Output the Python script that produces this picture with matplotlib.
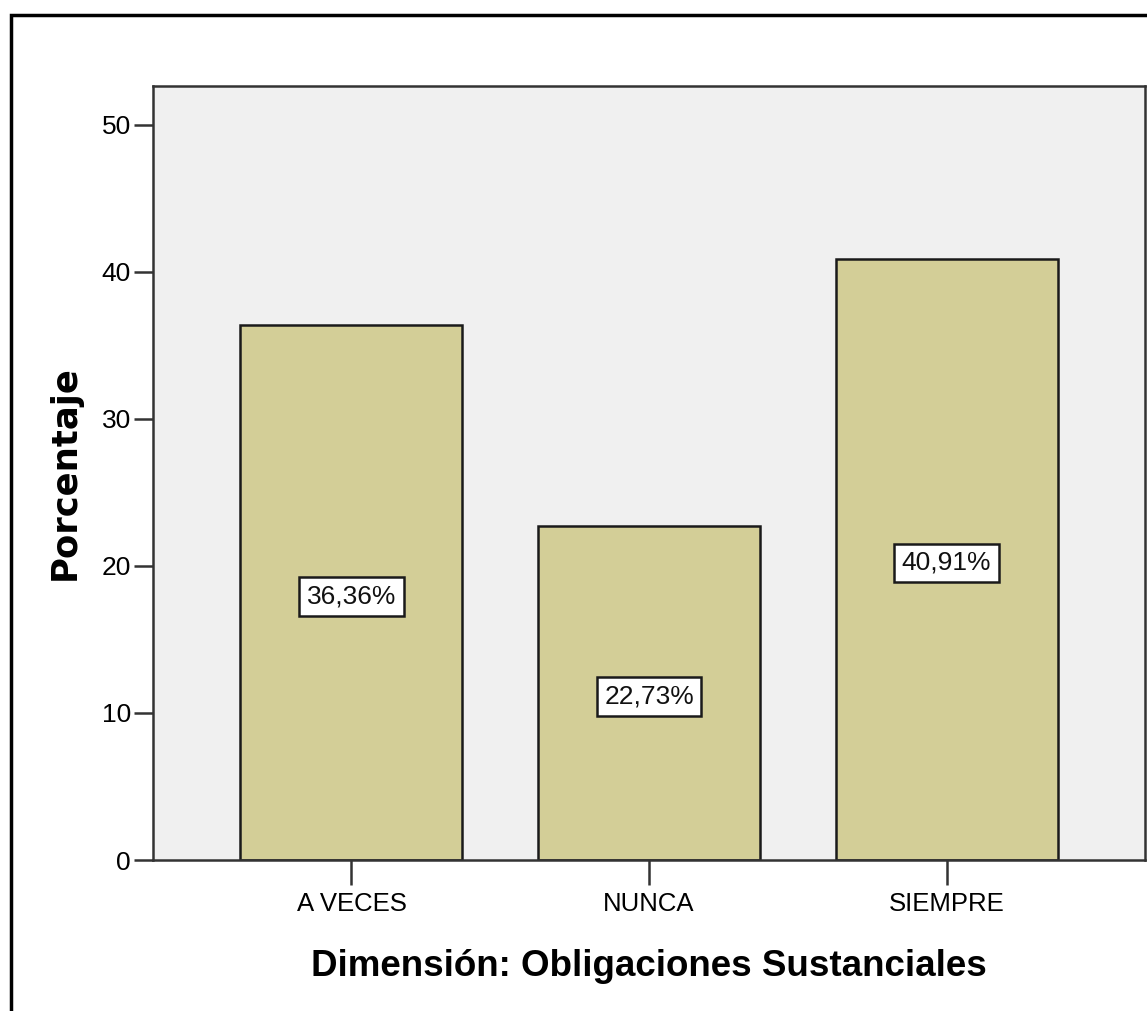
import matplotlib
matplotlib.use("Agg")
import matplotlib.pyplot as plt
from matplotlib.patches import Rectangle

categories = ["A VECES", "NUNCA", "SIEMPRE"]
percentages = [36.36, 22.73, 40.91]
bar_labels = ["36,36%", "22,73%", "40,91%"]
yticks = [0, 10, 20, 30, 40, 50]

W, H, DPI = 1147, 1011, 100
fig = plt.figure(figsize=(W / DPI, H / DPI), dpi=DPI)
fig.patch.set_facecolor("white")

# axes placement in pixel terms
left, right, top, bottom = 153, 1145, 86, 860
ax = fig.add_axes([left / W, 1 - bottom / H, (right - left) / W, (bottom - top) / H])
ax.set_facecolor("#f0f0f0")

x = list(range(len(categories)))
bars = ax.bar(x, percentages, width=0.746, color="#d3ce97",
              edgecolor="#1a1a1a", linewidth=1.8, zorder=2)

for xi, val, lab in zip(x, percentages, bar_labels):
    ax.text(xi, val / 2 - 0.25, lab, ha="center", va="center", fontsize=19,
            family="Liberation Sans", color="#111111", zorder=3,
            bbox=dict(boxstyle="square,pad=0.28", facecolor="white",
                      edgecolor="#1a1a1a", linewidth=1.8))

ax.set_xlim(-0.667, 2.667)
ax.set_ylim(0, 52.65)
ax.set_xticks(x)
ax.set_xticklabels(categories, family="Liberation Sans", fontsize=18.5)
ax.set_yticks(yticks)
ax.set_yticklabels([str(t) for t in yticks], family="Liberation Sans", fontsize=19)
ax.tick_params(axis="y", length=14, width=1.8, color="#333333", pad=2)
ax.tick_params(axis="x", length=18, width=1.8, color="#333333", pad=5)

for sp in ax.spines.values():
    sp.set_color("#333333")
    sp.set_linewidth(1.8)

ax.set_xlabel("Dimensión: Obligaciones Sustanciales", fontsize=26.5,
              fontweight="bold", family="Liberation Sans", labelpad=24)
ax.set_ylabel("Porcentaje", fontsize=25.5, fontweight="bold",
              family="DejaVu Sans", labelpad=14)

# outer frame around the chart
frame = Rectangle((11 / W, -0.05), 1.1, 1 - 15 / H + 0.05, transform=fig.transFigure,
                  fill=False, edgecolor="black", linewidth=2.5, zorder=10)
fig.patches.append(frame)

fig.savefig("out.png", dpi=DPI)
